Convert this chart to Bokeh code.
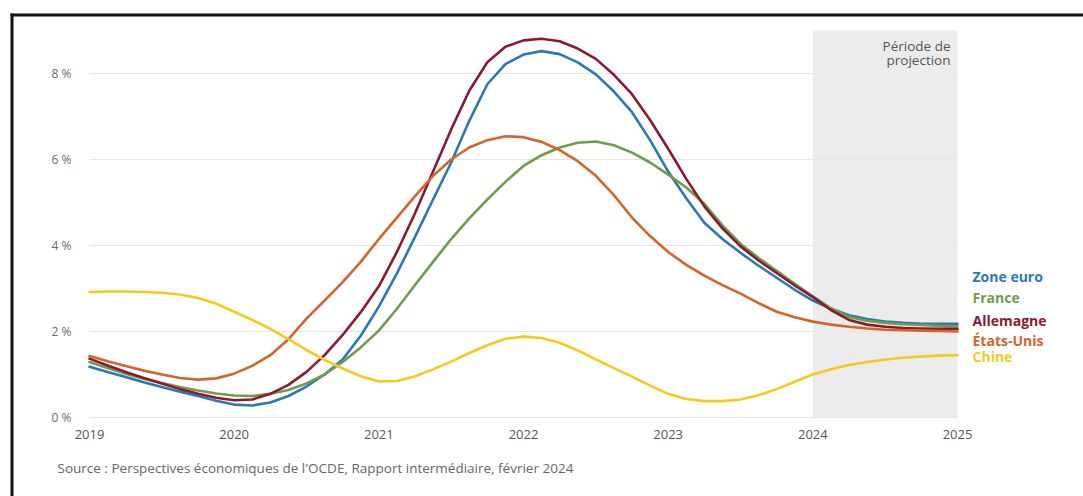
from bokeh.plotting import figure
from bokeh.models import BoxAnnotation, Label, FixedTicker
from bokeh.embed import file_html
from bokeh.resources import INLINE

# ---- data (every 1/8 year) ----
years = [2019.0, 2019.125, 2019.25, 2019.375, 2019.5, 2019.625, 2019.75, 2019.875,
         2020.0, 2020.125, 2020.25, 2020.375, 2020.5, 2020.625, 2020.75, 2020.875,
         2021.0, 2021.125, 2021.25, 2021.375, 2021.5, 2021.625, 2021.75, 2021.875,
         2022.0, 2022.125, 2022.25, 2022.375, 2022.5, 2022.625, 2022.75, 2022.875,
         2023.0, 2023.125, 2023.25, 2023.375, 2023.5, 2023.625, 2023.75, 2023.875,
         2024.0, 2024.125, 2024.25, 2024.375, 2024.5, 2024.625, 2024.75, 2024.875,
         2025.0]

zone_euro = [1.18, 1.06, 0.94, 0.82, 0.71, 0.60, 0.50, 0.39,
             0.30, 0.28, 0.35, 0.50, 0.72, 1.00, 1.35, 1.90,
             2.58, 3.35, 4.20, 5.07, 5.93, 6.90, 7.75, 8.22,
             8.44, 8.52, 8.45, 8.26, 7.98, 7.58, 7.10, 6.45,
             5.72, 5.10, 4.53, 4.15, 3.83, 3.53, 3.25, 2.97,
             2.72, 2.53, 2.38, 2.29, 2.23, 2.20, 2.18, 2.18,
             2.18]
france = [1.29, 1.15, 1.02, 0.90, 0.80, 0.71, 0.63, 0.56,
          0.51, 0.50, 0.55, 0.64, 0.79, 1.00, 1.29, 1.63,
          2.02, 2.53, 3.08, 3.62, 4.15, 4.63, 5.07, 5.48,
          5.85, 6.10, 6.28, 6.39, 6.42, 6.33, 6.16, 5.93,
          5.65, 5.35, 4.97, 4.47, 4.04, 3.71, 3.41, 3.11,
          2.82, 2.54, 2.34, 2.25, 2.20, 2.17, 2.15, 2.13,
          2.12]
allemagne = [1.37, 1.21, 1.06, 0.92, 0.79, 0.66, 0.55, 0.46,
             0.40, 0.42, 0.55, 0.76, 1.06, 1.45, 1.92, 2.45,
             3.05, 3.85, 4.75, 5.72, 6.70, 7.60, 8.26, 8.62,
             8.77, 8.81, 8.75, 8.58, 8.34, 7.97, 7.52, 6.92,
             6.25, 5.55, 4.91, 4.40, 3.98, 3.65, 3.36, 3.07,
             2.80, 2.50, 2.27, 2.16, 2.11, 2.08, 2.07, 2.06,
             2.06]
etats_unis = [1.43, 1.31, 1.20, 1.09, 1.00, 0.92, 0.88, 0.91,
              1.02, 1.20, 1.45, 1.82, 2.30, 2.72, 3.15, 3.62,
              4.15, 4.65, 5.15, 5.62, 6.00, 6.28, 6.45, 6.54,
              6.52, 6.41, 6.22, 5.96, 5.62, 5.17, 4.65, 4.22,
              3.85, 3.55, 3.30, 3.08, 2.88, 2.66, 2.46, 2.33,
              2.23, 2.16, 2.11, 2.07, 2.04, 2.03, 2.02, 2.01,
              2.00]
chine = [2.92, 2.93, 2.93, 2.92, 2.90, 2.86, 2.78, 2.65,
         2.46, 2.27, 2.06, 1.82, 1.57, 1.34, 1.14, 0.96,
         0.84, 0.85, 0.96, 1.12, 1.30, 1.50, 1.68, 1.83,
         1.88, 1.85, 1.74, 1.56, 1.35, 1.15, 0.95, 0.74,
         0.55, 0.43, 0.38, 0.38, 0.42, 0.52, 0.66, 0.83,
         1.00, 1.12, 1.22, 1.29, 1.35, 1.39, 1.42, 1.44,
         1.45]

series_names = ["Zone euro", "France", "Allemagne", "États-Unis", "Chine"]
series_values = [zone_euro, france, allemagne, etats_unis, chine]
series_colors = ["#2b79b3", "#6f9c4e", "#8c1a2c", "#d4632c", "#f3cb1e"]
# vertical placement of the end labels (in % units, spread to avoid overlap)
label_y = [3.27, 2.78, 2.25, 1.78, 1.43]

x_ticks = [2019, 2020, 2021, 2022, 2023, 2024, 2025]
x_tick_labels = ["2019", "2020", "2021", "2022", "2023", "2024", "2025"]
y_ticks = [0, 2, 4, 6, 8]
y_tick_labels = ["0 %", "2 %", "4 %", "6 %", "8 %"]

projection_start = 2024
projection_end = 2025
y_top = 9
projection_lines = ["Période de", "projection"]

source_text = ("Source : Perspectives économiques de l'OCDE, "
               "Rapport intermédiaire, février 2024")

FONT = "Open Sans"

# layout: the frame covers the whole canvas, axes are pinned inside it
X_RANGE = (2018.3848, 2025.8709)
Y_RANGE = (-1.8372, 9.6977)
# page frame (black rule on top and left of the screenshot), in range units
FRAME_X = 2018.4643
FRAME_Y = 9.3605

p = figure(width=1083, height=496, x_range=X_RANGE, y_range=Y_RANGE,
           output_backend="svg", toolbar_location=None,
           min_border=0, min_border_left=0, min_border_right=0,
           min_border_top=0, min_border_bottom=0)
p.background_fill_color = "white"
p.border_fill_color = "white"
p.outline_line_color = None
p.xgrid.visible = False
p.ygrid.visible = False

p.add_layout(BoxAnnotation(left=projection_start, right=projection_end,
                           bottom=0, top=y_top,
                           fill_color="#ececec", fill_alpha=1.0, line_color=None,
                           level="underlay"))

# horizontal grid lines, only across the data period
p.segment(x0=[x_ticks[0]] * len(y_ticks), x1=[x_ticks[-1]] * len(y_ticks),
          y0=y_ticks, y1=y_ticks, line_color="#e6e6e6", line_width=1)

# black page frame (top and left rules)
p.segment(x0=[FRAME_X, FRAME_X], x1=[X_RANGE[1], FRAME_X],
          y0=[FRAME_Y, FRAME_Y], y1=[FRAME_Y, Y_RANGE[0]],
          line_color="#111111", line_width=3, line_cap="square")

for ax in (p.xaxis, p.yaxis):
    ax.axis_line_color = None
    ax.major_tick_line_color = None
    ax.minor_tick_line_color = None
    ax.major_label_text_font = FONT

p.xaxis.fixed_location = 0
p.xaxis.ticker = FixedTicker(ticks=x_ticks)
p.xaxis.major_label_overrides = dict(zip(x_ticks, x_tick_labels))
p.xaxis.major_label_text_font_size = "13px"
p.xaxis.major_label_text_color = "#555555"
p.xaxis.major_label_standoff = 6

p.yaxis.fixed_location = x_ticks[0]
p.yaxis.ticker = FixedTicker(ticks=y_ticks)
p.yaxis.major_label_overrides = dict(zip(y_ticks, y_tick_labels))
p.yaxis.major_label_text_font_size = "12px"
p.yaxis.major_label_text_color = "#6a6a6a"
p.yaxis.major_label_standoff = 12

for name, vals, col in zip(series_names, series_values, series_colors):
    p.line(years, vals, line_color=col, line_width=2.6, line_join="round",
           line_cap="round")

for name, ly, col in zip(series_names, label_y, series_colors):
    p.add_layout(Label(x=projection_end, y=ly, x_offset=15, text=name,
                       text_color=col, text_font=FONT, text_font_style="bold",
                       text_font_size="14px", text_baseline="middle"))

for i, line in enumerate(projection_lines):
    p.add_layout(Label(x=projection_end, y=y_top, x_offset=-7,
                       y_offset=-15 - 14 * i, text=line, text_align="right",
                       text_baseline="middle", text_font=FONT,
                       text_font_size="13.5px", text_color="#555555"))

p.add_layout(Label(x=x_ticks[0], y=0, x_offset=-32, y_offset=-50,
                   text=source_text, text_font=FONT, text_font_size="13.5px",
                   text_color="#666666", text_baseline="middle"))

open("out.html", "w").write(file_html(p, INLINE))
